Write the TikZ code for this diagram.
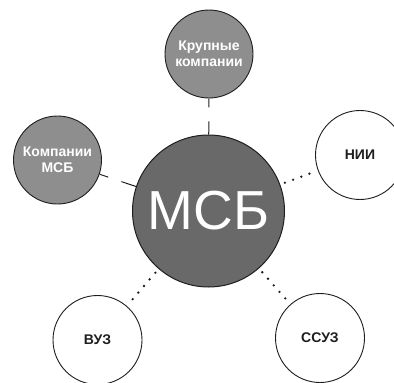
\documentclass[tikz,border=0pt]{standalone}
\usepackage{fontspec}
\setmainfont{Liberation Sans}
\definecolor{maingray}{HTML}{696969}
\definecolor{sidegray}{HTML}{8E8E8E}
\definecolor{ink}{HTML}{1E1E1E}
\begin{document}
\begin{tikzpicture}[x=1pt,y=-1pt,
  hub/.style={circle,draw=ink,line width=1pt,fill=maingray,inner sep=0pt,
    minimum size=152pt,text=white,font=\fontsize{55}{55}\selectfont},
  partner/.style={circle,draw=ink,line width=0.9pt,fill=sidegray,inner sep=0pt,
    minimum size=88pt,text=white,align=center,font=\fontsize{14}{15.5}\selectfont\bfseries},
  school/.style={circle,draw=ink,line width=0.9pt,fill=white,inner sep=0pt,
    minimum size=89pt,text=ink,font=\fontsize{14}{15.5}\selectfont\bfseries},
  solidlink/.style={draw=ink,line width=1pt,dash pattern=on 9pt off 14pt on 30pt},
  dotlink/.style={draw=ink,line width=2.6pt,line cap=round,dash pattern=on 0pt off 8.7pt,
    shorten <=5pt,shorten >=2pt}]
\useasboundingbox (0,0) rectangle (394,383);
\clip (0,0) rectangle (394,383);

% outer circles
\node[partner] (big) at (209,54) {Крупные\\компании};
\node[partner] (sme) at (57.5,160) {Компании\\МСБ};
\node[school] (nii) at (360,155) {НИИ};
\node[school] (vuz) at (97.5,340) {ВУЗ};
\node[school] (ssuz) at (320,338) {ССУЗ};

% central circle
\node[hub] (hub) at (208.5,211) {МСБ};

% connectors
\draw[solidlink] (big) -- (hub);
\draw[solidlink] (sme) -- (hub);
\draw[dotlink] (hub) -- (nii);
\draw[dotlink] (hub) -- (vuz);
\draw[dotlink] (hub) -- (ssuz);
\end{tikzpicture}
\end{document}
